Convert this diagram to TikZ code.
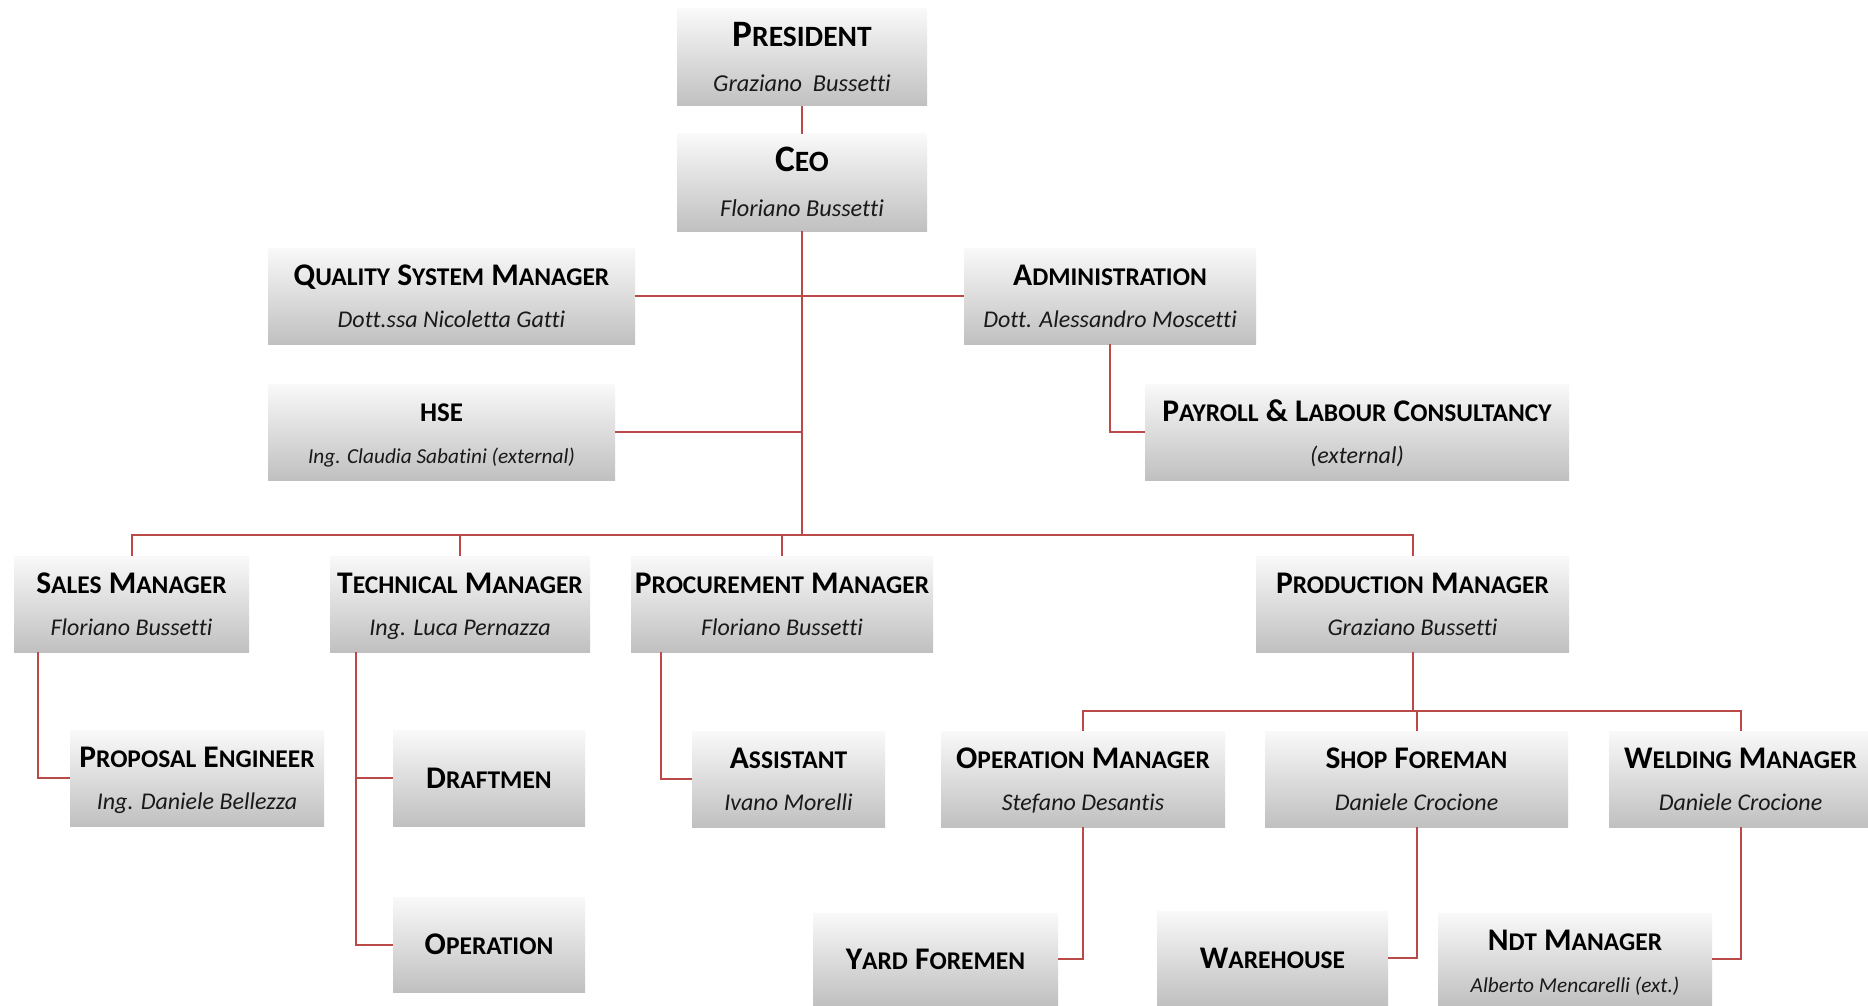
\documentclass[tikz,border=0pt]{standalone}
\usepackage{fontspec}
\setmainfont{Carlito}[Ligatures=NoCommon]
\definecolor{lnred}{RGB}{185,74,71}
\definecolor{btop}{RGB}{249,249,249}
\definecolor{bbot}{RGB}{192,192,192}
\newcommand\capsz{31.5pt}
\newcommand\smsz{25.5pt}
\newcommand\SCw[2]{{\fontsize{\capsz}{\capsz}\selectfont #1}{\fontsize{\smsz}{\smsz}\selectfont #2}}
\tikzset{
  obox/.style={rectangle, top color=btop, bottom color=bbot, draw=none, inner sep=0pt},
  ttl/.style={font=\bfseries\fontsize{31.5pt}{32pt}\selectfont, inner sep=0pt},
  ttlbig/.style={font=\bfseries\def\capsz{37.3pt}\def\smsz{29.5pt}\fontsize{37.3pt}{38pt}\selectfont, inner sep=0pt},
  nm/.style={font=\itshape\fontsize{24pt}{25pt}\selectfont, inner sep=0pt, text=black!90},
  nmsm/.style={font=\itshape\fontsize{21.3pt}{22pt}\selectfont, inner sep=0pt, text=black!90},
  nmbig/.style={font=\itshape\fontsize{24.3pt}{25pt}\selectfont, inner sep=0pt, text=black!90},
  conn/.style={draw=lnred, line width=2pt},
}
\newcommand\orgbox[8][nm]{%
  \node[obox, minimum width={(#5-#3)*1pt}, minimum height={(#6-#4)*1pt}] (#2) at ({(#3+#5)/2},{(#4+#6)/2}) {};
  \node[ttl, anchor=base] (#2-t) at ([yshift=-38pt]#2.north) {#7};
  \node[#1, anchor=base] (#2-n) at ([yshift=-80pt]#2.north) {#8};
}
\newcommand\topbox[7]{%
  \node[obox, minimum width={(#4-#2)*1pt}, minimum height={(#5-#3)*1pt}] (#1) at ({(#2+#4)/2},{(#3+#5)/2}) {};
  \node[ttlbig, anchor=base] (#1-t) at ([yshift=-38pt]#1.north) {#6};
  \node[nmbig, anchor=base] (#1-n) at ([yshift=-83pt]#1.north) {#7};
}
\newcommand\onebox[6]{%
  \node[obox, minimum width={(#4-#2)*1pt}, minimum height={(#5-#3)*1pt}] (#1) at ({(#2+#4)/2},{(#3+#5)/2}) {};
  \node[ttl, anchor=base] (#1-t) at ([yshift=-10pt]#1.center) {#6};
}
\begin{document}
\begin{tikzpicture}[x=1pt,y=-1pt]
\fill[white] (0,0) rectangle (1868,1006);
\useasboundingbox (0,0) rectangle (1868,1006);
% boxes
\topbox{pres}{677}{9}{927}{106}{\SCw{P}{RESIDENT}}{Graziano~~Bussetti}
\topbox{ceo}{677}{134}{927}{231}{\SCw{C}{EO}}{Floriano Bussetti}
\orgbox{qsm}{268}{248}{635}{344}{\SCw{Q}{UALITY} \SCw{S}{YSTEM} \SCw{M}{ANAGER}}{Dott.ssa Nicoletta Gatti}
\orgbox{adm}{964}{248}{1256}{344}{\SCw{A}{DMINISTRATION}}{Dott. Alessandro Moscetti}
\orgbox[nmsm]{hse}{268}{384}{615}{480}{{\fontsize{27pt}{28pt}\selectfont HSE}}{Ing. Claudia Sabatini (external)}
\orgbox{pay}{1145}{384}{1569}{480}{\SCw{P}{AYROLL} \& \SCw{L}{ABOUR} \SCw{C}{ONSULTANCY}}{(external)}
\orgbox{sales}{14}{556}{249}{652}{\SCw{S}{ALES} \SCw{M}{ANAGER}}{Floriano Bussetti}
\orgbox{tech}{330}{556}{590}{652}{\SCw{T}{ECHNICAL} \SCw{M}{ANAGER}}{Ing. Luca Pernazza}
\orgbox{proc}{631}{556}{933}{652}{\SCw{P}{ROCUREMENT} \SCw{M}{ANAGER}}{Floriano Bussetti}
\orgbox{prod}{1256}{556}{1569}{652}{\SCw{P}{RODUCTION} \SCw{M}{ANAGER}}{Graziano Bussetti}
\orgbox{prop}{70}{730}{324}{826}{\SCw{P}{ROPOSAL} \SCw{E}{NGINEER}}{Ing. Daniele Bellezza}
\onebox{draft}{393}{730}{585}{826}{\SCw{D}{RAFTMEN}}
\onebox{oper}{393}{897}{585}{992}{\SCw{O}{PERATION}}
\orgbox{asst}{692}{731}{885}{827}{\SCw{A}{SSISTANT}}{Ivano Morelli}
\orgbox{opm}{941}{731}{1225}{827}{\SCw{O}{PERATION} \SCw{M}{ANAGER}}{Stefano Desantis}
\orgbox{shop}{1265}{731}{1568}{827}{\SCw{S}{HOP} \SCw{F}{OREMAN}}{Daniele Crocione}
\orgbox{weld}{1609}{731}{1872}{827}{\SCw{W}{ELDING} \SCw{M}{ANAGER}}{Daniele Crocione}
\onebox{yard}{813}{913}{1058}{1005}{\SCw{Y}{ARD} \SCw{F}{OREMEN}}
\onebox{ware}{1157}{911}{1388}{1005}{\SCw{W}{AREHOUSE}}
\orgbox[nmsm]{ndt}{1438}{913}{1712}{1005}{\SCw{N}{DT} \SCw{M}{ANAGER}}{Alberto Mencarelli (ext.)}
% connectors
\coordinate (bus1) at (0,535);
\coordinate (bus2) at (0,711);
\draw[conn] (pres.south) -- (ceo.north);
\draw[conn] (ceo.south) -- (ceo.south |- bus1);
\draw[conn] (qsm.east) -- (adm.west);
\draw[conn] (hse.east) -- (hse.east -| ceo.south);
\draw[conn] (adm.south) |- (pay.west);
\draw[conn] (sales.north) -- (sales.north |- bus1) -- (prod.north |- bus1) -- (prod.north);
\draw[conn] (tech.north) -- (tech.north |- bus1);
\draw[conn] (proc.north) -- (proc.north |- bus1);
\coordinate (sx) at ([xshift=24pt]sales.south west);
\draw[conn] (sx) |- (prop.west);
\coordinate (tx) at ([xshift=26pt]tech.south west);
\draw[conn] (tx) |- (oper.west);
\draw[conn] (draft.west) -- (draft.west -| tx);
\coordinate (px) at ([xshift=30pt]proc.south west);
\draw[conn] (px) |- (asst.west);
\draw[conn] (prod.south) -- (prod.south |- bus2);
\draw[conn] (opm.north) -- (opm.north |- bus2) -- (weld.north |- bus2) -- (weld.north);
\draw[conn] (shop.north) -- (shop.north |- bus2);
\draw[conn] (opm.south) |- (yard.east);
\draw[conn] (shop.south) |- (ware.east);
\draw[conn] (weld.south) |- (ndt.east);
\end{tikzpicture}
\end{document}
